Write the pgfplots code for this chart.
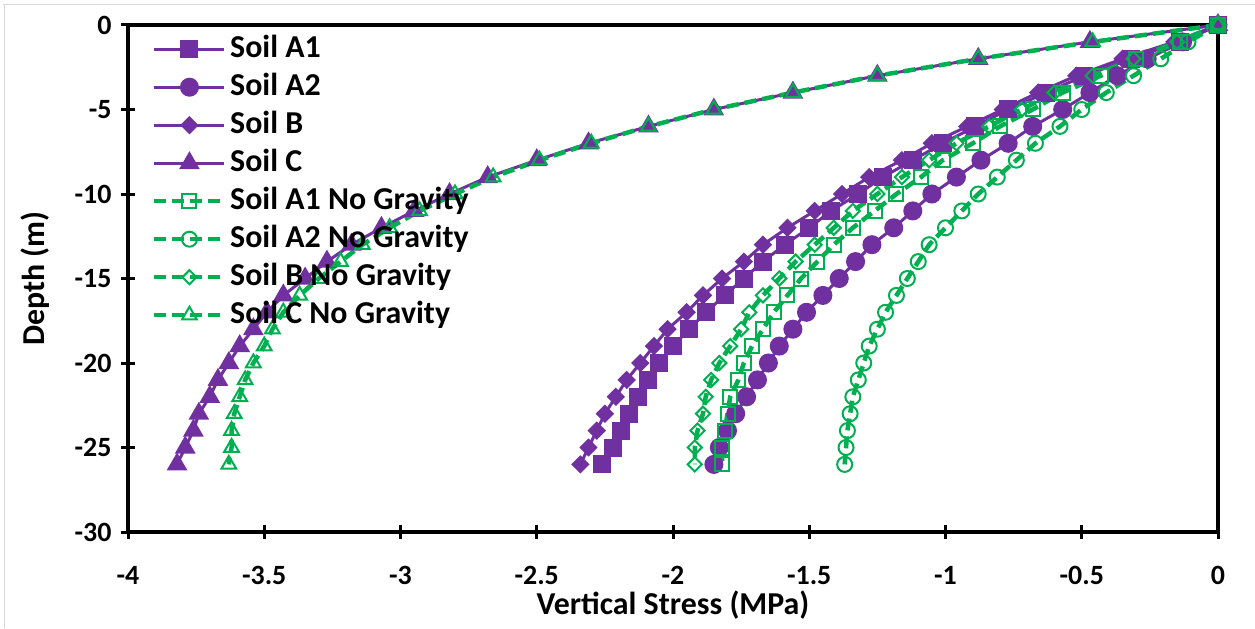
\documentclass[border=0pt]{standalone}
\usepackage{pgfplots}
\pgfplotsset{compat=1.18}
\usepackage{fontspec}
\setmainfont{Carlito}
\definecolor{purp}{HTML}{7030A0}
\definecolor{grn}{HTML}{00B050}
\begin{document}
\begin{tikzpicture}
\begin{axis}[
  scale only axis, width=1090bp, height=507bp,
  xmin=-4, xmax=0, ymin=-30, ymax=0,
  axis line style={line width=3.5bp},
  xtick={-4,-3.5,-3,-2.5,-2,-1.5,-1,-0.5,0},
  xticklabels={{-4},{-3.5},{-3},{-2.5},{-2},{-1.5},{-1},{-0.5},{0}},
  ytick={-30,-25,-20,-15,-10,-5,0},
  yticklabels={{-30},{-25},{-20},{-15},{-10},{-5},{0}},
  tick align=center, xtick pos=bottom, ytick pos=left,
  major tick length=14bp,
  tick style={line width=3bp, black},
  ticklabel style={font=\bfseries\fontsize{28}{28}\selectfont},
  xticklabel style={yshift=-24bp},
  yticklabel style={xshift=-6bp},
  xlabel={Vertical Stress (MPa)},
  ylabel={Depth (m)},
  label style={font=\bfseries\fontsize{32}{32}\selectfont},
  xlabel style={yshift=1bp},
  ylabel style={yshift=18bp},
  legend cell align=left,
  legend style={at={(0,1)}, anchor=north west, xshift=24bp, yshift=-5bp,
    draw=none, fill=none, inner sep=0pt, row sep=0bp,
    font=\bfseries\fontsize{32}{32}\selectfont,
    nodes={text height=23.5bp, text depth=7.5bp, inner sep=3.5bp}},
  legend image code/.code={\draw[mark repeat=2,mark phase=2] plot coordinates {(0bp,0bp) (35bp,0bp) (70bp,0bp)};},
  clip=false,
]
\addplot[purp, line width=3bp, mark=square*, mark size=7.5bp, mark options={fill=purp}] coordinates {
(0,0) (-0.14,-1) (-0.32,-2) (-0.49,-3) (-0.63,-4) (-0.77,-5) (-0.89,-6) (-1.01,-7) (-1.12,-8) (-1.23,-9) (-1.32,-10) (-1.42,-11) (-1.50,-12) (-1.59,-13) (-1.67,-14) (-1.74,-15) (-1.81,-16) (-1.88,-17) (-1.94,-18) (-2.00,-19) (-2.05,-20) (-2.09,-21) (-2.13,-22) (-2.16,-23) (-2.19,-24) (-2.22,-25) (-2.26,-26)};
\addlegendentry{Soil A1}
\addplot[purp, line width=3bp, mark=*, mark size=8bp, mark options={fill=purp}] coordinates {
(0,0) (-0.13,-1) (-0.26,-2) (-0.37,-3) (-0.47,-4) (-0.57,-5) (-0.68,-6) (-0.77,-7) (-0.87,-8) (-0.96,-9) (-1.05,-10) (-1.12,-11) (-1.19,-12) (-1.27,-13) (-1.33,-14) (-1.39,-15) (-1.45,-16) (-1.51,-17) (-1.56,-18) (-1.61,-19) (-1.65,-20) (-1.69,-21) (-1.73,-22) (-1.77,-23) (-1.80,-24) (-1.83,-25) (-1.85,-26)};
\addlegendentry{Soil A2}
\addplot[purp, line width=3bp, mark=square*, mark size=5bp, mark options={fill=purp, rotate=45}] coordinates {
(0,0) (-0.16,-1) (-0.35,-2) (-0.52,-3) (-0.66,-4) (-0.79,-5) (-0.92,-6) (-1.05,-7) (-1.16,-8) (-1.28,-9) (-1.38,-10) (-1.48,-11) (-1.58,-12) (-1.67,-13) (-1.74,-14) (-1.82,-15) (-1.89,-16) (-1.95,-17) (-2.02,-18) (-2.07,-19) (-2.12,-20) (-2.17,-21) (-2.21,-22) (-2.25,-23) (-2.28,-24) (-2.31,-25) (-2.34,-26)};
\addlegendentry{Soil B}
\addplot[purp, line width=3bp, mark=triangle*, mark size=9bp, mark options={fill=purp}] coordinates {
(0,0) (-0.47,-1) (-0.88,-2) (-1.25,-3) (-1.56,-4) (-1.85,-5) (-2.09,-6) (-2.31,-7) (-2.50,-8) (-2.68,-9) (-2.82,-10) (-2.95,-11) (-3.07,-12) (-3.18,-13) (-3.27,-14) (-3.35,-15) (-3.43,-16) (-3.49,-17) (-3.54,-18) (-3.59,-19) (-3.63,-20) (-3.67,-21) (-3.70,-22) (-3.74,-23) (-3.76,-24) (-3.79,-25) (-3.82,-26)};
\addlegendentry{Soil C}
\addplot[grn, line width=4.5bp, dash pattern=on 12bp off 6bp, mark=square, mark size=7bp, mark options={solid, line width=2bp}] coordinates {
(0,0) (-0.14,-1) (-0.30,-2) (-0.43,-3) (-0.57,-4) (-0.68,-5) (-0.80,-6) (-0.90,-7) (-1.01,-8) (-1.09,-9) (-1.18,-10) (-1.26,-11) (-1.34,-12) (-1.41,-13) (-1.47,-14) (-1.53,-15) (-1.58,-16) (-1.63,-17) (-1.67,-18) (-1.71,-19) (-1.74,-20) (-1.76,-21) (-1.79,-22) (-1.80,-23) (-1.81,-24) (-1.82,-25) (-1.82,-26)};
\addlegendentry{Soil A1 No Gravity}
\addplot[grn, line width=4.5bp, dash pattern=on 12bp off 6bp, mark=o, mark size=7.5bp, mark options={solid, line width=2bp}] coordinates {
(0,0) (-0.11,-1) (-0.21,-2) (-0.31,-3) (-0.41,-4) (-0.50,-5) (-0.58,-6) (-0.67,-7) (-0.74,-8) (-0.81,-9) (-0.88,-10) (-0.94,-11) (-1.00,-12) (-1.06,-13) (-1.10,-14) (-1.14,-15) (-1.18,-16) (-1.22,-17) (-1.25,-18) (-1.28,-19) (-1.30,-20) (-1.32,-21) (-1.34,-22) (-1.35,-23) (-1.36,-24) (-1.365,-25) (-1.37,-26)};
\addlegendentry{Soil A2 No Gravity}
\addplot[grn, line width=4.5bp, dash pattern=on 12bp off 6bp, mark=square, mark size=5bp, mark options={solid, line width=2bp, rotate=45}] coordinates {
(0,0) (-0.15,-1) (-0.31,-2) (-0.46,-3) (-0.60,-4) (-0.72,-5) (-0.84,-6) (-0.96,-7) (-1.06,-8) (-1.16,-9) (-1.25,-10) (-1.34,-11) (-1.41,-12) (-1.48,-13) (-1.55,-14) (-1.61,-15) (-1.67,-16) (-1.72,-17) (-1.75,-18) (-1.79,-19) (-1.83,-20) (-1.86,-21) (-1.88,-22) (-1.89,-23) (-1.91,-24) (-1.92,-25) (-1.92,-26)};
\addlegendentry{Soil B No Gravity}
\addplot[grn, line width=4.5bp, dash pattern=on 12bp off 6bp, mark=triangle, mark size=8.5bp, mark options={solid, line width=2bp}] coordinates {
(0,0) (-0.46,-1) (-0.88,-2) (-1.25,-3) (-1.56,-4) (-1.85,-5) (-2.09,-6) (-2.30,-7) (-2.49,-8) (-2.66,-9) (-2.80,-10) (-2.93,-11) (-3.04,-12) (-3.14,-13) (-3.22,-14) (-3.30,-15) (-3.37,-16) (-3.43,-17) (-3.47,-18) (-3.50,-19) (-3.54,-20) (-3.57,-21) (-3.59,-22) (-3.61,-23) (-3.62,-24) (-3.62,-25) (-3.63,-26)};
\addlegendentry{Soil C No Gravity}
\end{axis}
\draw[black!15, line width=1bp] ([xshift=-125bp,yshift=20bp]current axis.north west) -- ([xshift=37bp,yshift=20bp]current axis.north east);
\draw[black!15, line width=1bp] ([xshift=-123bp,yshift=20bp]current axis.north west) -- ([xshift=-123bp,yshift=-96bp]current axis.south west);
\pgfresetboundingbox
\path ([xshift=-128bp,yshift=-96bp]current axis.south west) rectangle ([xshift=37bp,yshift=25bp]current axis.north east);
\end{tikzpicture}
\end{document}
